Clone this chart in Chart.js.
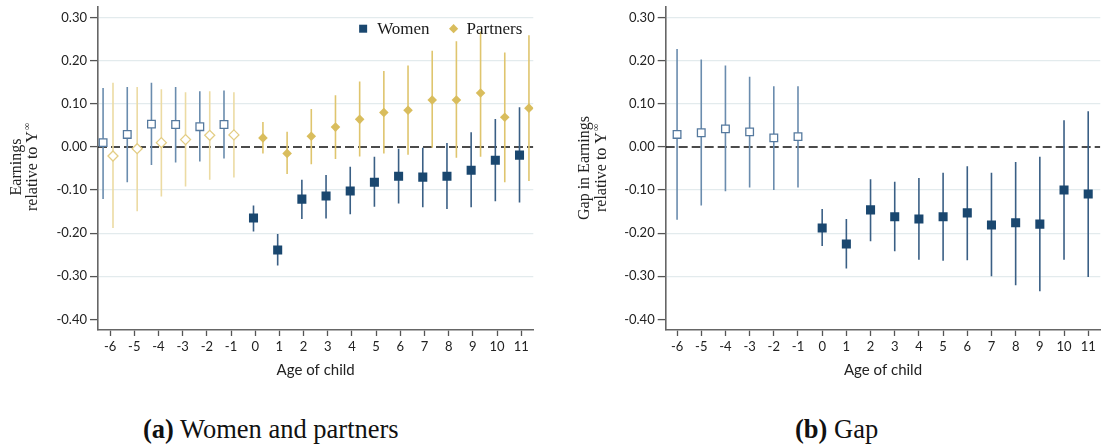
<!DOCTYPE html>
<html><head><meta charset="utf-8">
<script src="https://cdn.jsdelivr.net/npm/chart.js@4.4.1/dist/chart.umd.min.js"></script>
<style>
html,body{margin:0;padding:0;background:#fff;overflow:hidden;width:1102px;height:445px;position:relative;}
#c1{position:absolute;left:0;top:0;}
#c2{position:absolute;left:560px;top:0;}
.cap{position:absolute;top:415px;line-height:29px;font-family:"Liberation Serif","Times New Roman",serif;font-size:26.5px;color:#111;white-space:nowrap;}
</style></head><body>
<canvas id="c1" width="540" height="385"></canvas>
<canvas id="c2" width="547" height="385"></canvas>
<div class="cap" style="left:143px"><b>(a)</b> Women and partners</div>
<div class="cap" style="left:795px"><b>(b)</b> Gap</div>
<script>
// ---- data ----
const ages = [-6,-5,-4,-3,-2,-1,0,1,2,3,4,5,6,7,8,9,10,11];
const yTicks = [-0.4,-0.3,-0.2,-0.1,0,0.1,0.2,0.3];

const womenEst = [0.010,0.029,0.053,0.052,0.047,0.052,-0.165,-0.239,-0.121,-0.114,-0.102,-0.082,-0.068,-0.070,-0.068,-0.054,-0.031,-0.019];
const womenLo  = [-0.121,-0.082,-0.042,-0.036,-0.034,-0.027,-0.196,-0.275,-0.167,-0.166,-0.156,-0.139,-0.131,-0.140,-0.144,-0.140,-0.126,-0.129];
const womenHi  = [0.137,0.139,0.149,0.139,0.129,0.131,-0.136,-0.202,-0.076,-0.065,-0.046,-0.023,-0.004,-0.002,0.009,0.034,0.065,0.092];

const partnersEst = [-0.021,-0.004,0.010,0.017,0.027,0.028,0.021,-0.015,0.025,0.046,0.064,0.080,0.085,0.109,0.109,0.125,0.069,0.090];
const partnersLo  = [-0.188,-0.149,-0.115,-0.092,-0.076,-0.071,-0.015,-0.063,-0.040,-0.028,-0.022,-0.015,-0.018,-0.002,-0.025,-0.023,-0.082,-0.079];
const partnersHi  = [0.149,0.139,0.134,0.127,0.129,0.127,0.058,0.035,0.088,0.120,0.152,0.176,0.189,0.223,0.245,0.268,0.219,0.259];

const gapEst = [0.029,0.033,0.042,0.035,0.021,0.024,-0.188,-0.225,-0.146,-0.162,-0.167,-0.162,-0.153,-0.181,-0.176,-0.179,-0.100,-0.109];
const gapLo  = [-0.169,-0.136,-0.103,-0.094,-0.100,-0.094,-0.230,-0.282,-0.219,-0.242,-0.262,-0.264,-0.263,-0.300,-0.321,-0.335,-0.262,-0.302];
const gapHi  = [0.227,0.203,0.189,0.163,0.141,0.141,-0.144,-0.167,-0.075,-0.081,-0.072,-0.060,-0.045,-0.060,-0.035,-0.023,0.062,0.083];

// ---- helpers ----
const NAVY = '#1a476f', GOLD = '#d9bd5d';
const SANS = 'Lato, "Open Sans", sans-serif';
const SERIF = '"Liberation Serif", "Times New Roman", serif';
const allIdx = ages.map((a, i) => i);
const preIdx = allIdx.filter(i => ages[i] < 0);
const postIdx = allIdx.filter(i => ages[i] >= 0);

function points(est, list, off) { return list.map(i => ({x: ages[i] + off, y: est[i]})); }
function ranges(lo, hi, list, off) { return list.map(i => ({x: ages[i] + off, y: [lo[i], hi[i]]})); }

function barDs(data, color) {
  return {type: 'bar', data, backgroundColor: color, borderWidth: 0, grouped: false,
          maxBarThickness: 1.6, order: 5};
}
function markerDs(label, data, style, radius, fill, stroke, bw) {
  return {type: 'scatter', label, data, pointStyle: style, pointRadius: radius, pointHoverRadius: radius,
          backgroundColor: fill, borderColor: stroke, pointBorderWidth: bw, borderWidth: bw, showLine: false, order: 1};
}
function zeroLine(xmin, xmax) {
  return {type: 'line', data: [{x: xmin, y: 0}, {x: xmax, y: 0}], borderColor: '#111111', borderWidth: 1.5,
          borderDash: [9, 4], pointRadius: 0, fill: false, order: 8};
}

function makeScales(xmin, xmax, yw) {
  return {
    x: {
      type: 'linear', min: xmin, max: xmax, offset: false,
      afterBuildTicks: s => { s.ticks = ages.map(v => ({value: v})); },
      afterFit: s => { s.height = 55; s.paddingLeft = 0; s.paddingRight = 0; },
      grid: {drawOnChartArea: false, drawTicks: true, tickLength: 6, tickColor: '#555', tickWidth: 1.3, offset: false},
      border: {display: true, color: '#666', width: 1.6},
      ticks: {font: {family: SANS, size: 13}, color: '#222', padding: 3, autoSkip: false, maxRotation: 0,
              callback: v => String(v)},
      title: {display: true, text: 'Age of child', font: {family: SANS, size: 15}, color: '#222',
              padding: {top: 0, bottom: 6}}
    },
    y: {
      type: 'linear', min: -0.4247, max: 0.3254,
      afterBuildTicks: s => { s.ticks = yTicks.map(v => ({value: v})); },
      afterFit: s => { s.width = yw; s.paddingTop = 0; s.paddingBottom = 0; },
      grid: {
        color: c => (c.tick && (Math.abs(c.tick.value) < 1e-9 || c.tick.value < -0.39)) ? 'rgba(0,0,0,0)' : '#e3ebed',
        lineWidth: 1.2, tickLength: 8, tickColor: '#555', tickWidth: 1.3
      },
      border: {display: true, color: '#666', width: 1.6},
      ticks: {font: {family: SANS, size: 13}, color: '#222', padding: 3, callback: v => Number(v).toFixed(2)}
    }
  };
}

function yTitlePlugin(lines, yc) {
  return {
    id: 'yTitle',
    afterDraw(chart) {
      const ctx = chart.ctx;
      lines.forEach(l => {
        ctx.save();
        ctx.translate(l.x, yc);
        ctx.rotate(-Math.PI / 2);
        ctx.fillStyle = '#222';
        ctx.textBaseline = 'middle';
        ctx.textAlign = 'left';
        ctx.font = '16px ' + SERIF;
        const w1 = ctx.measureText(l.text).width;
        let w2 = 0;
        if (l.sup) { ctx.font = '10px ' + SERIF; w2 = ctx.measureText(l.sup).width + 1; }
        const start = -(w1 + w2) / 2;
        ctx.font = '16px ' + SERIF;
        ctx.fillText(l.text, start, 0);
        if (l.sup) { ctx.font = '10px ' + SERIF; ctx.fillText(l.sup, start + w1 + 1, -6); }
        ctx.restore();
      });
    }
  };
}

const legendPlugin = {
  id: 'customLegend',
  afterDatasetsDraw(chart) {
    const ctx = chart.ctx, ca = chart.chartArea;
    ctx.save();
    ctx.font = '17px ' + SERIF;
    ctx.textBaseline = 'middle';
    ctx.textAlign = 'left';
    const yc = ca.top + 22;
    const wP = ctx.measureText('Partners').width;
    const xP = ca.right - 11 - wP;
    const dX = xP - 13;
    const wW = ctx.measureText('Women').width;
    const xW = dX - 24 - wW;
    const sX = xW - 14;
    ctx.fillStyle = NAVY;
    ctx.fillRect(sX - 4, yc - 4, 8, 8);
    ctx.fillStyle = GOLD;
    ctx.beginPath();
    ctx.moveTo(dX, yc - 4.6); ctx.lineTo(dX + 4.6, yc); ctx.lineTo(dX, yc + 4.6); ctx.lineTo(dX - 4.6, yc);
    ctx.closePath(); ctx.fill();
    ctx.fillStyle = '#1a1a1a';
    ctx.fillText('Women', xW, yc + 1);
    ctx.fillText('Partners', xP, yc + 1);
    ctx.restore();
  }
};

const WOFF = [-0.29, -0.07], POFF = [0.12, 0.32];
const commonPlugins = {legend: {display: false}, tooltip: {enabled: false}};

// ---- chart (a) ----
new Chart(document.getElementById('c1'), {
  type: 'scatter',
  data: {
    datasets: [
      zeroLine(-6.5, 11.5),
      barDs(ranges(womenLo, womenHi, preIdx, WOFF[0]), '#6a8cae'),
      barDs(ranges(womenLo, womenHi, postIdx, WOFF[1]), '#3a5f85'),
      barDs(ranges(partnersLo, partnersHi, preIdx, POFF[0]), '#ecdba3'),
      barDs(ranges(partnersLo, partnersHi, postIdx, POFF[1]), '#dfc56e'),
      markerDs('Women (pre)', points(womenEst, preIdx, WOFF[0]), 'rect', 5.4, '#ffffff', '#55799e', 1.3),
      markerDs('Partners (pre)', points(partnersEst, preIdx, POFF[0]), 'rectRot', 5.0, '#ffffff', '#e3cd84', 1.3),
      markerDs('Women', points(womenEst, postIdx, WOFF[1]), 'rect', 6.4, NAVY, NAVY, 0),
      markerDs('Partners', points(partnersEst, postIdx, POFF[1]), 'rectRot', 4.8, GOLD, GOLD, 0)
    ]
  },
  options: {
    responsive: false, animation: false, devicePixelRatio: 1,
    layout: {padding: {top: 5, left: 0, right: 0.5, bottom: 0}},
    scales: makeScales(-6.5, 11.5, 98),
    plugins: commonPlugins
  },
  plugins: [yTitlePlugin([{text: 'Earnings', x: 17}, {text: 'relative to Y', sup: '∞', x: 33}], 167), legendPlugin]
});

// ---- chart (b) ----
new Chart(document.getElementById('c2'), {
  type: 'scatter',
  data: {
    datasets: [
      zeroLine(-6.47, 11.5),
      barDs(ranges(gapLo, gapHi, preIdx, 0), '#6a8cae'),
      barDs(ranges(gapLo, gapHi, postIdx, 0), '#3a5f85'),
      markerDs('Gap (pre)', points(gapEst, preIdx, 0), 'rect', 5.4, '#ffffff', '#55799e', 1.3),
      markerDs('Gap', points(gapEst, postIdx, 0), 'rect', 6.4, NAVY, NAVY, 0)
    ]
  },
  options: {
    responsive: false, animation: false, devicePixelRatio: 1,
    layout: {padding: {top: 5, left: 0, right: 0.4, bottom: 0}},
    scales: makeScales(-6.47, 11.5, 105.7),
    plugins: commonPlugins
  },
  plugins: [yTitlePlugin([{text: 'Gap in Earnings', x: 25}, {text: 'relative to Y', sup: '∞', x: 42}], 168)]
});
</script>
</body></html>
